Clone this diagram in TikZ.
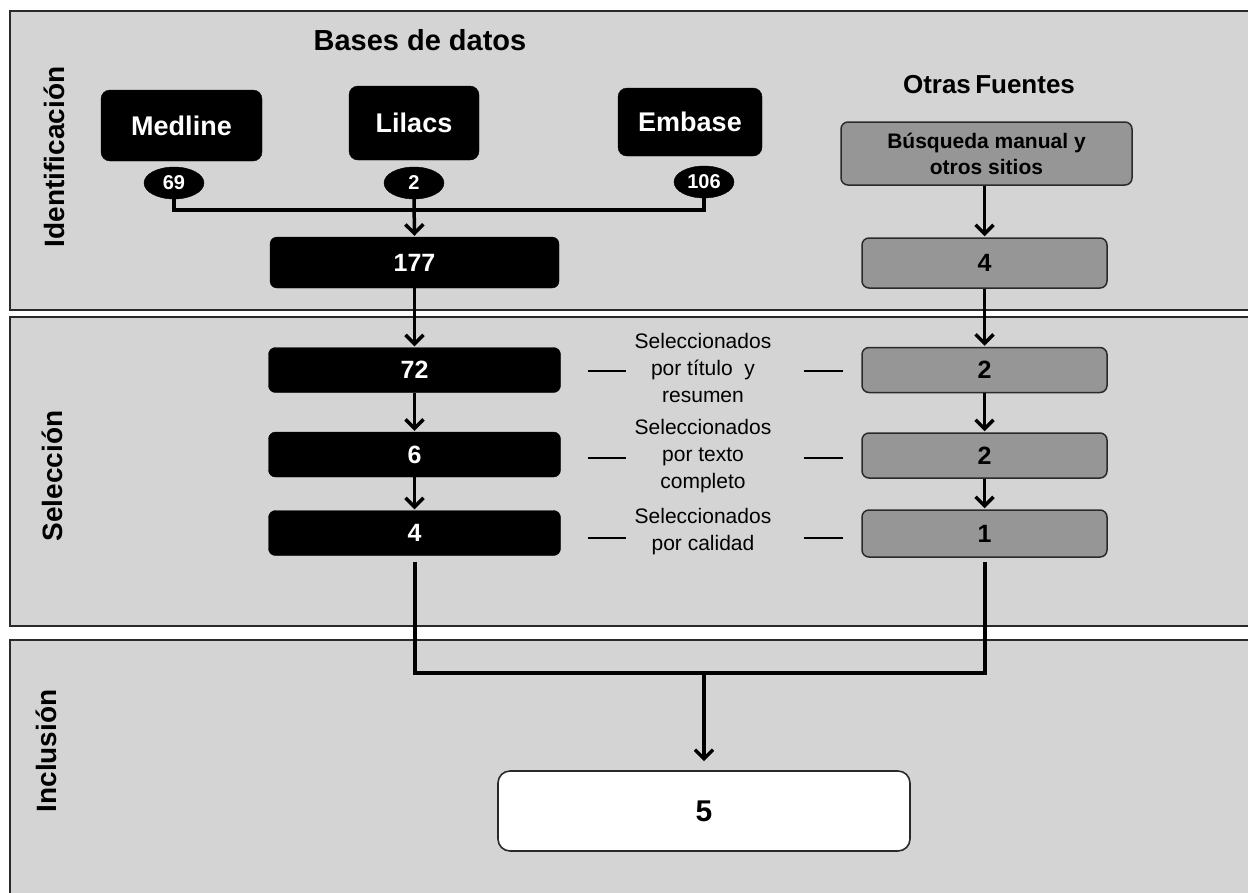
\documentclass[tikz,border=0pt]{standalone}
\usepackage{fontspec}
\setmainfont{Liberation Sans}
\usetikzlibrary{arrows.meta,shapes.geometric}
\definecolor{panelgray}{HTML}{D4D4D4}
\definecolor{boxgray}{HTML}{969696}
\definecolor{edgegray}{HTML}{2A2A2A}
\tikzset{
  panel/.style={draw=edgegray, line width=1.8pt, fill=panelgray},
  dbbox/.style={rounded corners=9pt, fill=black, draw=black, text=white, inner sep=0pt,
    font=\bfseries\fontsize{27}{30}\selectfont},
  cnt/.style={ellipse, fill=black, draw=black, text=white, inner sep=0pt,
    minimum width=60pt, minimum height=32pt, font=\bfseries\fontsize{20}{22}\selectfont},
  blackbox/.style={rounded corners=7pt, fill=black, draw=black, text=white, inner sep=0pt,
    minimum width=292pt, minimum height=45pt, font=\bfseries\fontsize{25}{28}\selectfont},
  graybox/.style={rounded corners=7pt, fill=boxgray, draw=edgegray, line width=1.5pt, inner sep=0pt,
    minimum width=245pt, minimum height=45pt, font=\bfseries\fontsize{25}{28}\selectfont},
  sidelab/.style={rotate=90, font=\bfseries\fontsize{28}{32}\selectfont},
  seltext/.style={align=center, font=\fontsize{21}{27}\selectfont},
  conn/.style={line width=3.5pt},
  arr/.style={line width=3.5pt, -{Straight Barb[length=9pt,width=18pt]}, shorten >=1pt},
  dashline/.style={line width=1.6pt}
}
\begin{document}
\begin{tikzpicture}[x=1pt,y=-1pt]
\useasboundingbox (0,0) rectangle (1248,892);
\clip (0,0) rectangle (1248,892);
\fill[white] (0,0) rectangle (1248,892);
% panels
\draw[panel] (10,11) rectangle (1270,310);
\draw[panel] (10,317) rectangle (1270,626);
\draw[panel] (10,640) rectangle (1270,910);
% side labels
\node[sidelab] (sid) at (54,157) {Identificación};
\node[sidelab] (ssel) at (52,476) {Selección};
\node[sidelab] (sinc) at (46,751) {Inclusión};
% headings
\node[font=\bfseries\fontsize{29}{32}\selectfont] (hbd) at (420,40) {Bases de datos};
\node[font=\bfseries\fontsize{26}{30}\selectfont] (hof) at (989,85) {Otras\,Fuentes};
% databases
\node[dbbox, minimum width=161pt, minimum height=71pt] (med) at (181.5,125.5) {Medline};
\node[dbbox, minimum width=130pt, minimum height=74pt] (lil) at (414,123) {Lilacs};
\node[dbbox, minimum width=144pt, minimum height=68pt] (emb) at (690,122) {Embase};
\node[cnt] (e69) at (174,183) {69};
\node[cnt] (e2) at (414,183) {2};
\node[cnt] (e106) at (704,182) {106};
% left column
\node[blackbox, minimum width=289pt, minimum height=51pt] (b177) at (414.5,262.5) {177};
\node[blackbox] (b72) at (414.5,370) {72};
\node[blackbox] (b6) at (414.5,454.5) {6};
\node[blackbox] (b4) at (414.5,533) {4};
% right column
\node[graybox, minimum width=291pt, minimum height=63pt, align=center,
  font=\bfseries\fontsize{21}{26}\selectfont] (busq) at (986.5,153.5) {Búsqueda manual y\\otros sitios};
\node[graybox, minimum height=50pt] (g4) at (984.5,263) {4};
\node[graybox] (g2a) at (984.5,370) {2};
\node[graybox] (g2b) at (984.5,455.5) {2};
\node[graybox, minimum height=47pt] (g1) at (984.5,533.5) {1};
% inclusion
\node[rounded corners=12pt, fill=white, draw=edgegray, line width=1.6pt, minimum width=412pt,
  minimum height=80pt, font=\bfseries\fontsize{30}{34}\selectfont] (b5) at (704,811) {5};
% middle labels
\node[seltext] (l1) at (703,368) {Seleccionados\\por título\ \ y\\resumen};
\node[seltext] (l2) at (703,456) {Seleccionados\\por texto\\completo};
\node[seltext] (l3) at (703,532) {Seleccionados\\por calidad};
\draw[dashline] (588,371) -- (626,371);
\draw[dashline] (804,371) -- (843,371);
\draw[dashline] (588,458) -- (626,458);
\draw[dashline] (804,458) -- (843,458);
\draw[dashline] (588,538) -- (626,538);
\draw[dashline] (804,538) -- (843,538);
% connectors
\coordinate (jt) at (414,210);
\draw[conn] (e69.south) |- (jt) -| (e106.south);
\draw[arr] (e2.south) -- (b177.north);
\draw[arr] (b177.south) -- (b72.north);
\draw[arr] (b72.south) -- (b6.north);
\draw[arr] (b6.south) -- (b4.north);
\draw[arr] (busq.south -| g4.north) -- (g4.north);
\draw[arr] (g4.south) -- (g2a.north);
\draw[arr] (g2a.south) -- (g2b.north);
\draw[arr] (g2b.south) -- (g1.north);
\coordinate (jb) at (704,673);
\draw[line width=4pt] ([yshift=-6pt]b4.south) |- (jb) -| ([yshift=-4pt]g1.south);
\draw[arr] (jb) -- ([yshift=8pt]b5.north);
\end{tikzpicture}
\end{document}
